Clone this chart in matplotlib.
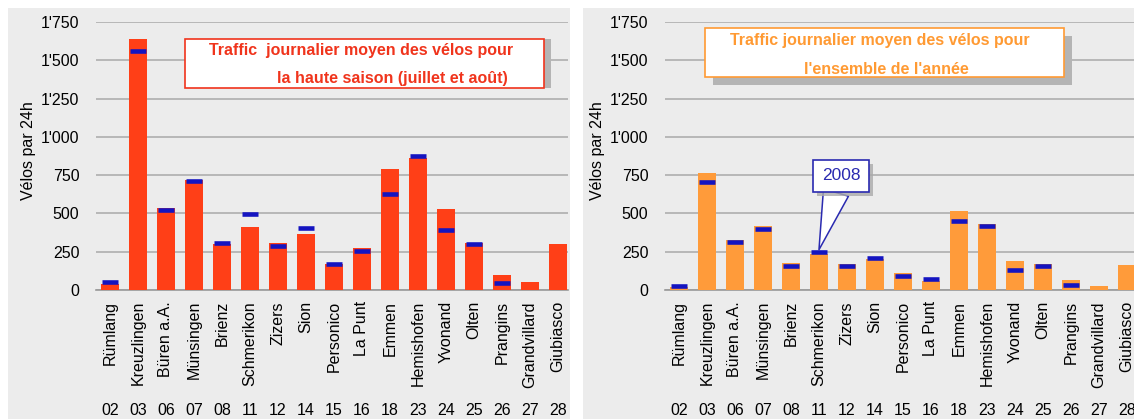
import matplotlib.pyplot as plt
import matplotlib.patheffects as pe
from matplotlib.patches import Rectangle
from matplotlib.ticker import FuncFormatter
import numpy as np

plt.rcParams["font.family"] = ["Liberation Sans", "DejaVu Sans"]

STATIONS = ["Rümlang", "Kreuzlingen", "Büren a.A.", "Münsingen", "Brienz",
            "Schmerikon", "Zizers", "Sion", "Personico", "La Punt", "Emmen",
            "Hemishofen", "Yvonand", "Olten", "Prangins", "Grandvillard",
            "Giubiasco"]
CODES = ["02", "03", "06", "07", "08", "11", "12", "14", "15", "16", "18",
         "23", "24", "25", "26", "27", "28"]

# haute saison (juillet et août)
SUMMER = [42, 1641, 533, 720, 298, 409, 307, 367, 167, 272, 791, 863, 528,
          304, 98, 52, 302]
SUMMER_2008 = [52, 1563, 522, 715, 309, 496, 287, 407, 172, 252, 630, 872,
               391, 298, 43, np.nan, np.nan]

# ensemble de l'année
YEAR = [20, 765, 326, 415, 178, 233, 172, 200, 113, 60, 513, 433, 187,
        170, 63, 24, 161]
YEAR_2008 = [28, 704, 313, 400, 154, 248, 159, 207, 93, 70, 452, 417, 133,
             159, 30, np.nan, np.nan]

W, H = 1134, 419
BG = "#ECECEC"
GRID = "#A9A9A9"
BLUE = "#1414C0"


def fx(px):
    return px / W


def fy(py):
    return 1 - py / H


def thousands(v, pos):
    v = int(round(v))
    return f"{v // 1000}'{v % 1000:03d}" if v >= 1000 else str(v)


def panel(fig, left_px, values, marks, color):
    ax = fig.add_axes([fx(left_px), fy(290), 472 / W, (290 - 22) / H])
    ax.set_facecolor("none")
    x = np.arange(len(STATIONS))
    ax.bar(x, values, width=0.65, color=color, zorder=3)
    ax.plot(x, marks, ls="none", marker="_", ms=12, mew=3.3,
            color=BLUE, zorder=4)
    ax.set_xlim(-0.5, 16.36)
    ax.set_ylim(0, 1750)
    ax.set_yticks(np.arange(0, 1751, 250))
    ax.yaxis.set_major_formatter(FuncFormatter(thousands))
    ax.grid(axis="y", color=GRID, lw=1.1, zorder=0)
    ax.set_axisbelow(True)
    for s in ("top", "right", "left"):
        ax.spines[s].set_visible(False)
    ax.spines["bottom"].set_color("#999999")
    ax.spines["bottom"].set_linewidth(1.2)
    ax.tick_params(length=0, labelsize=11.5)
    ax.tick_params(axis="y", pad=12)
    ax.set_xticks(x)
    ax.set_xticklabels(STATIONS, rotation=90, fontsize=11.5)
    ax.tick_params(axis="x", pad=8)
    for i, c in enumerate(CODES):
        ax.text(i, -0.448, c, transform=ax.get_xaxis_transform(),
                ha="center", va="center", fontsize=11.5)
    ax.set_ylabel("Vélos par 24h", fontsize=11.5)
    ax.yaxis.set_label_coords(-0.128, 0.52)
    return ax


def title_box(fig, x0, y0, x1, y1, dx, dy, color, lines):
    fig.add_artist(Rectangle((fx(x0 + dx), fy(y1 + dy)), fx(x1 - x0),
                             (y1 - y0) / H, transform=fig.transFigure,
                             fc="#B4B4B4", ec="none", zorder=5))
    fig.add_artist(Rectangle((fx(x0), fy(y1)), fx(x1 - x0), (y1 - y0) / H,
                             transform=fig.transFigure, fc="white",
                             ec=color, lw=1.2, zorder=6))
    for (tx, ty, s) in lines:
        fig.text(fx(tx), fy(ty), s, color=color, fontsize=11.5,
                 fontweight="bold", ha="center", va="center", zorder=7)


fig = plt.figure(figsize=(W / 100, H / 100), dpi=100)
fig.add_artist(Rectangle((fx(8), 0), fx(570 - 8), fy(8),
                         transform=fig.transFigure, fc=BG, ec="none",
                         zorder=-2))
fig.add_artist(Rectangle((fx(583), 0), fx(W - 583), fy(8),
                         transform=fig.transFigure, fc=BG, ec="none",
                         zorder=-2))

ax1 = panel(fig, 96, SUMMER, SUMMER_2008, "#FF3F17")
ax2 = panel(fig, 665, YEAR, YEAR_2008, "#FF9B3A")

title_box(fig, 185, 39, 544, 88, 7, 0, "#F0341C",
          [(361, 50, "Traffic  journalier moyen des vélos pour"),
           (392, 78, "la haute saison (juillet et août)")])
title_box(fig, 705, 28, 1064, 77, 8, 8, "#FF9A33",
          [(880, 41, "Traffic journalier moyen des vélos pour"),
           (886, 69, "l'ensemble de l'année")])

ann = ax2.annotate("2008", xy=(5, YEAR_2008[5] + 15), xytext=(22, 74),
                   textcoords="offset pixels", ha="center", va="center",
                   fontsize=12.5, color="#2A2AB0", zorder=8,
                   bbox=dict(boxstyle="square,pad=0.5", fc="white",
                             ec="#2A2AB0", lw=1.2),
                   arrowprops=dict(arrowstyle="wedge,tail_width=1.5",
                                   fc="white", ec="#2A2AB0", lw=1.1,
                                   shrinkA=0, shrinkB=0))
ann.get_bbox_patch().set_path_effects(
    [pe.SimplePatchShadow(offset=(3, -3), shadow_rgbFace="#AAAAAA", alpha=0.8),
     pe.Normal()])

fig.savefig("out.png", dpi=100)
